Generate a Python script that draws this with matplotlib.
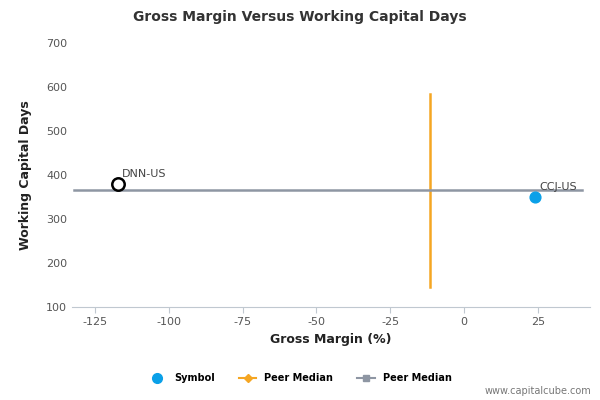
import matplotlib
matplotlib.use("Agg")
import matplotlib.pyplot as plt
from matplotlib.lines import Line2D

plt.rcParams["axes.unicode_minus"] = False

symbols = ["DNN-US", "CCJ-US"]
gross_margin = [-117.2, 24.0]
wc_days = [380, 350]
peer_median_x = -11.6
peer_median_y = 365
vline_range = [145, 585]
hline_range = [-132, 40]

fig = plt.figure(figsize=(6, 4), dpi=100)
ax = fig.add_axes([0.12, 0.2325, 0.863, 0.66])

ax.plot([peer_median_x, peer_median_x], vline_range, color="#f5a623", lw=1.8, zorder=2)
ax.plot(hline_range, [peer_median_y, peer_median_y], color="#8e96a3", lw=1.8, zorder=2)

ax.scatter(gross_margin[0], wc_days[0], s=80, facecolor="white", edgecolor="black", lw=1.8, zorder=3)
ax.scatter(gross_margin[1], wc_days[1], s=60, color="#0aa0e8", zorder=3)
for name, x, y in zip(symbols, gross_margin, wc_days):
    ax.annotate(name, (x, y), xytext=(3, 5), textcoords="offset points", fontsize=8, color="#444444")

ax.set_xlim(-132.8, 42.6)
ax.set_ylim(100, 700)
ax.set_xticks([-125, -100, -75, -50, -25, 0, 25])
ax.set_yticks(range(100, 701, 100))
for s in ["top", "right", "left"]:
    ax.spines[s].set_visible(False)
ax.spines["bottom"].set_color("#c0c8d0")
ax.tick_params(axis="both", labelsize=8, colors="#555555", length=0)
ax.tick_params(axis="x", length=4, color="#c0c8d0")
ax.set_xlabel("Gross Margin (%)", fontsize=9, fontweight="bold", color="#222222")
ax.set_ylabel("Working Capital Days", fontsize=9, fontweight="bold", color="#222222", labelpad=10)
fig.suptitle("Gross Margin Versus Working Capital Days", x=0.5, y=0.975, fontsize=10, fontweight="bold", color="#333333")

handles = [
    Line2D([], [], marker="o", color="#0aa0e8", lw=0, markersize=7),
    Line2D([], [], marker="D", color="#f5a623", lw=1.5, markersize=4),
    Line2D([], [], marker="s", color="#8e96a3", lw=1.5, markersize=5),
]
fig.legend(handles, ["Symbol", "Peer Median", "Peer Median"], loc="lower center",
           bbox_to_anchor=(0.5, 0.02), ncol=3, frameon=False,
           prop={"size": 7, "weight": "bold"}, handlelength=1.8, columnspacing=2.5)
fig.text(0.985, 0.015, "www.capitalcube.com", ha="right", fontsize=7, color="#777777")

fig.savefig("out.png", dpi=100)
